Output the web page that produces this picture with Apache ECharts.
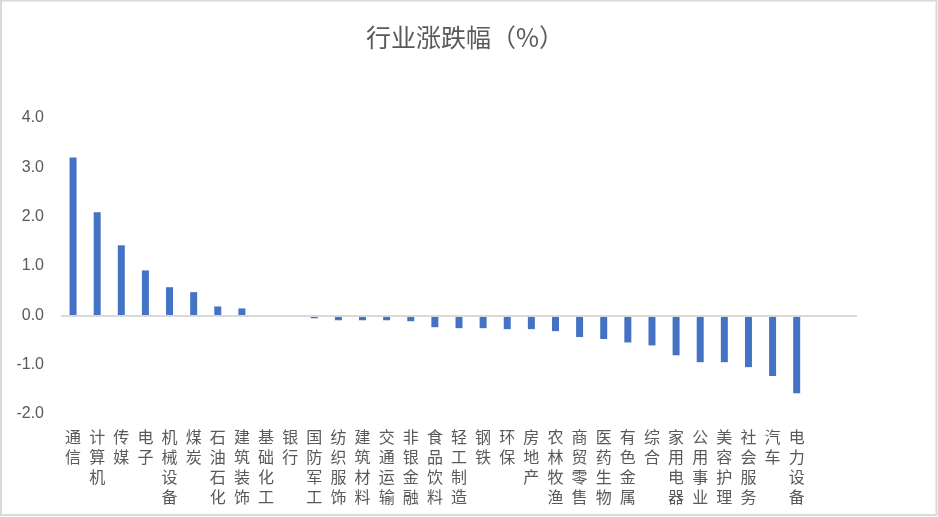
<!DOCTYPE html>
<html>
<head>
<meta charset="utf-8">
<script src="https://cdn.jsdelivr.net/npm/echarts@6/dist/echarts.min.js"></script>
<style>
html,body{margin:0;padding:0;background:#fff;}
#c{width:938px;height:517px;}
</style>
</head>
<body>
<div id="c"></div>
<script>
const titleText = '行业涨跌幅（%）';
const categories = ['通信','计算机','传媒','电子','机械设备','煤炭','石油石化','建筑装饰','基础化工','银行','国防军工','纺织服饰','建筑材料','交通运输','非银金融','食品饮料','轻工制造','钢铁','环保','房地产','农林牧渔','商贸零售','医药生物','有色金属','综合','家用电器','公用事业','美容护理','社会服务','汽车','电力设备'];
const values = [3.20,2.09,1.42,0.91,0.57,0.47,0.18,0.14,0.00,0.00,-0.06,-0.10,-0.10,-0.10,-0.12,-0.24,-0.26,-0.26,-0.28,-0.28,-0.32,-0.44,-0.48,-0.55,-0.61,-0.81,-0.95,-0.95,-1.05,-1.23,-1.58];
const blankSlots = ['',''];
const yMin = -2, yMax = 4, yStep = 1;

const axisCats = categories.concat(blankSlots);
const seriesData = values.concat(blankSlots.map(() => null));
const textColor = '#595959';
const cjk = '"Noto Sans CJK SC", "Noto Sans", sans-serif';

const chart = echarts.init(document.getElementById('c'));
chart.setOption({
  animation: false,
  backgroundColor: '#ffffff',
  title: {
    text: titleText,
    left: 460,
    textAlign: 'center',
    top: 20,
    textStyle: {color: textColor, fontSize: 25, fontWeight: 'normal', fontFamily: cjk}
  },
  graphic: [{
    type: 'rect',
    shape: {x: 1, y: 0.5, width: 935.5, height: 514.5},
    style: {fill: 'none', stroke: '#d9d9d9', lineWidth: 2},
    silent: true
  }],
  grid: {left: 61, right: 81, top: 118, bottom: 103, containLabel: false},
  xAxis: {
    type: 'category',
    data: axisCats,
    axisLine: {show: false},
    axisTick: {show: false},
    axisLabel: {
      interval: 0,
      margin: 13,
      color: textColor,
      fontSize: 16,
      lineHeight: 20,
      fontFamily: cjk,
      verticalAlign: 'top',
      formatter: v => v.split('').join('\n')
    }
  },
  yAxis: {
    type: 'value',
    min: yMin, max: yMax, interval: yStep,
    axisLine: {show: false},
    axisTick: {show: false},
    splitLine: {show: false},
    axisLabel: {
      color: textColor,
      fontSize: 16,
      margin: 17,
      fontFamily: '"Liberation Sans", "Noto Sans", sans-serif',
      formatter: v => v.toFixed(1)
    }
  },
  series: [{
    type: 'bar',
    data: seriesData,
    barWidth: 7,
    itemStyle: {color: '#4472C4'},
    markLine: {
      silent: true,
      symbol: 'none',
      label: {show: false},
      lineStyle: {color: '#d9d9d9', width: 2, type: 'solid'},
      data: [{yAxis: 0}]
    }
  }]
});
</script>
</body>
</html>
